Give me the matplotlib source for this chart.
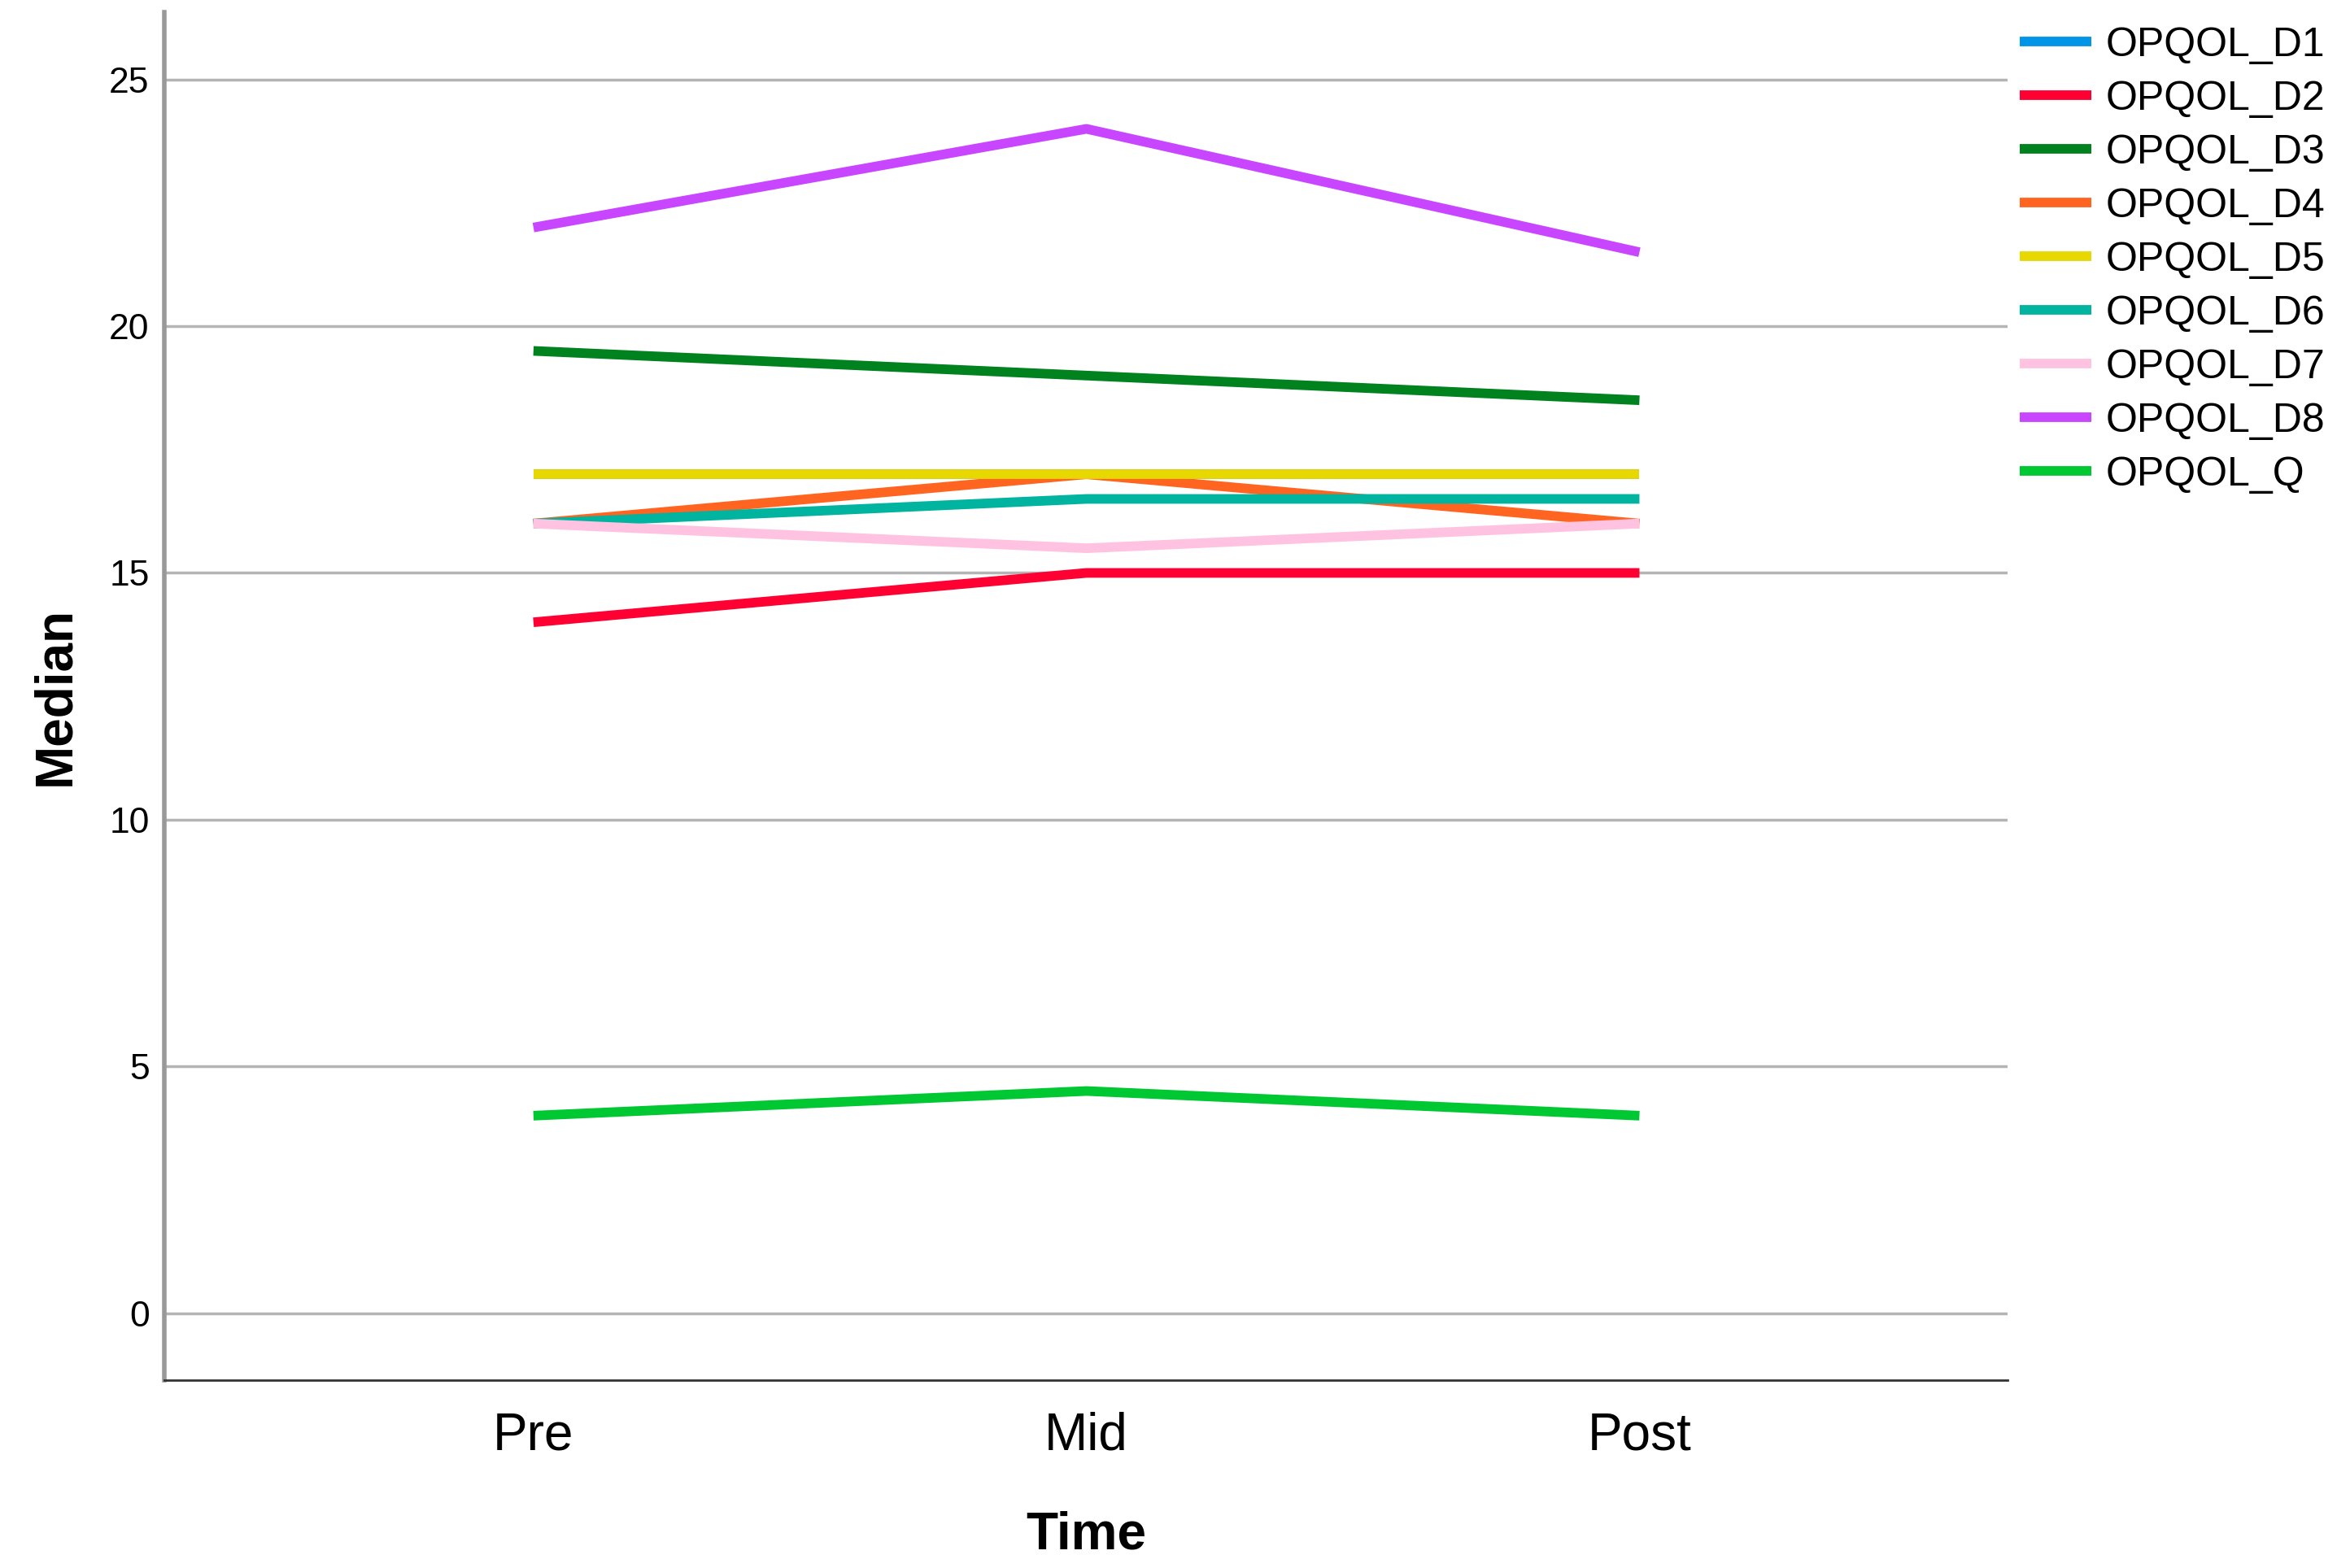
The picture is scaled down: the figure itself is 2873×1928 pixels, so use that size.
import matplotlib.pyplot as plt
from matplotlib import font_manager

# Data
times = ['Pre', 'Mid', 'Post']
series_names = ['OPQOL_D1', 'OPQOL_D2', 'OPQOL_D3', 'OPQOL_D4', 'OPQOL_D5',
                'OPQOL_D6', 'OPQOL_D7', 'OPQOL_D8', 'OPQOL_Q']
d1 = [17, 17, 17]
d2 = [14, 15, 15]
d3 = [19.5, 19, 18.5]
d4 = [16, 17, 16]
d5 = [17, 17, 17]
d6 = [16, 16.5, 16.5]
d7 = [16, 15.5, 16]
d8 = [22, 24, 21.5]
q = [4, 4.5, 4]
colors = ['#0095e6', '#ff0033', '#00821e', '#ff6420', '#e6d800',
          '#00b4a0', '#ffc3e1', '#c846ff', '#00c832']

names = {f.name for f in font_manager.fontManager.ttflist}
label_font = 'Liberation Sans Narrow' if 'Liberation Sans Narrow' in names else 'Liberation Sans'
plt.rcParams['font.family'] = ['Liberation Sans', 'DejaVu Sans']

fig = plt.figure(figsize=(28.73, 19.28), dpi=100)
ax = fig.add_axes([0.0702, 0.1198, 0.7889, 0.8726])

x = list(range(len(times)))
for name, vals, c in zip(series_names, [d1, d2, d3, d4, d5, d6, d7, d8, q], colors):
    ax.plot(x, vals, color=c, lw=8.5, label=name, solid_capstyle='butt', zorder=3)

ax.set_xlim(-0.668, 2.666)
ax.set_ylim(-1.36, 26.37)
ax.set_yticks([0, 5, 10, 15, 20, 25])
ax.set_xticks(x)
ax.set_xticklabels(times)
ax.yaxis.grid(True, color='#b4b4b4', lw=2.5, zorder=1)
ax.tick_params(axis='y', length=0, pad=13, labelsize=32)
ax.tick_params(axis='x', length=0, pad=28, labelsize=46)
for s in ['top', 'right']:
    ax.spines[s].set_visible(False)
ax.spines['left'].set_color('#999999')
ax.spines['left'].set_linewidth(4)
ax.spines['bottom'].set_color('#333333')
ax.spines['bottom'].set_linewidth(2)

ax.set_xlabel('Time', fontsize=46, fontweight='bold', family=label_font, labelpad=44)
ax.set_ylabel('Median', fontsize=46, fontweight='bold', family=label_font, labelpad=26)

leg = fig.legend(loc='upper left', bbox_to_anchor=(0.8642, 0.983), bbox_transform=fig.transFigure,
                 frameon=False, fontsize=36, handlelength=1.76, handletextpad=0.36,
                 labelspacing=0.4, borderpad=0, borderaxespad=0)
for line in leg.get_lines():
    line.set_linewidth(8.5)

fig.savefig('out.png', dpi=100)
